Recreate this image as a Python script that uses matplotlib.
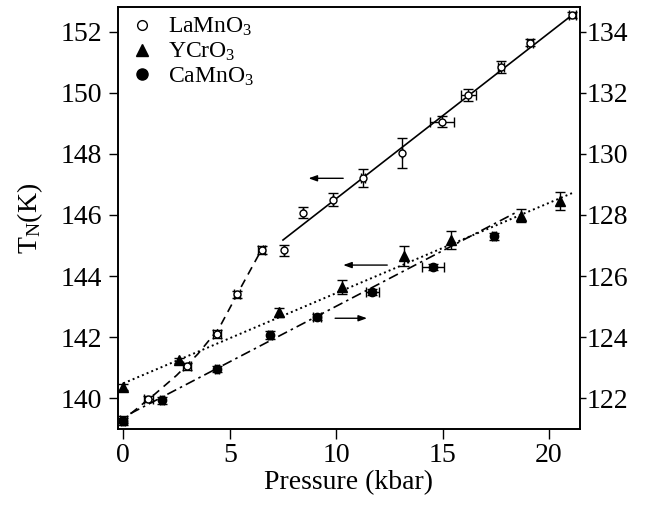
import matplotlib
matplotlib.use("Agg")
import numpy as np
import matplotlib.pyplot as plt
from matplotlib.lines import Line2D

plt.rcParams['font.family'] = ['Liberation Serif', 'DejaVu Serif']
plt.rcParams['mathtext.fontset'] = 'custom'
plt.rcParams['mathtext.rm'] = 'Liberation Serif'
plt.rcParams['mathtext.it'] = 'Liberation Serif:italic'

# LaMnO3 (left axis)
p_la = [0.0, 1.17, 3.0, 4.4, 5.35, 6.5, 7.55, 8.45, 9.86, 11.27, 13.1, 14.98, 16.2, 17.75, 19.1, 21.1]
t_la = [139.3, 139.97, 141.05, 142.1, 143.4, 144.85, 144.85, 146.07, 146.5, 147.2, 148.03, 149.05, 149.93, 150.85, 151.64, 152.55]
terr_la = [0.12, 0.1, 0.12, 0.12, 0.12, 0.12, 0.18, 0.18, 0.22, 0.3, 0.5, 0.18, 0.2, 0.2, 0.12, 0.1]
perr_la = [0.15, 0.2, 0.2, 0.2, 0.15, 0.15, 0.0, 0.0, 0.0, 0.1, 0.0, 0.55, 0.35, 0.15, 0.15, 0.15]

# YCrO3 (left axis)
p_y = [0.0, 2.6, 7.3, 10.28, 13.2, 15.4, 18.7, 20.5]
t_y = [140.36, 141.25, 142.82, 143.64, 144.66, 145.18, 145.98, 146.45]
terr_y = [0.1, 0.08, 0.15, 0.22, 0.32, 0.3, 0.2, 0.3]

# CaMnO3 (right axis)
p_ca = [0.0, 1.83, 4.4, 6.9, 9.1, 11.7, 14.55, 17.4]
t_ca = [121.25, 121.93, 122.95, 124.07, 124.66, 125.48, 126.3, 127.3]
terr_ca = [0.12, 0.1, 0.1, 0.12, 0.1, 0.1, 0.1, 0.12]
perr_ca = [0.1, 0.1, 0.1, 0.1, 0.2, 0.3, 0.52, 0.1]

# fit curves
fit_la_low_p = [0.35, 1.5, 2.5, 3.5, 4.5, 5.5, 6.6]
fit_la_low_t = [139.5, 140.15, 140.75, 141.45, 142.3, 143.6, 145.0]
fit_la_high_p = [7.5, 21.1]
fit_la_high_t = [145.18, 152.55]
fit_y_p = [0.0, 21.1]
fit_y_t = [140.49, 146.72]
fit_ca_p = [0.33, 18.5]
fit_ca_t = [121.5, 128.1]

fig = plt.figure(figsize=(6.45, 5.13), dpi=100)
ax = fig.add_axes([0.183, 0.164, 0.716, 0.822])
ax2 = ax.twinx()

ebkw = dict(ecolor='k', elinewidth=1, capsize=3.5, capthick=1, linestyle='none', zorder=3)

ax.errorbar(p_la, t_la, yerr=terr_la, xerr=perr_la, marker='o', ms=5, mfc='white', mec='k', mew=1, **ebkw)
ax.errorbar(p_y, t_y, yerr=terr_y, marker='^', ms=7, mfc='k', mec='k', **ebkw)
ax2.errorbar(p_ca, t_ca, yerr=terr_ca, xerr=perr_ca, marker='o', ms=6, mfc='k', mec='k', **ebkw)

ax.plot(fit_la_low_p, fit_la_low_t, color='k', lw=1.2, dashes=(5, 3.5))
ax.plot(fit_la_high_p, fit_la_high_t, color='k', lw=1.2)
ax.plot(fit_y_p, fit_y_t, color='k', lw=1.4, dashes=(1.0, 1.6))
ax2.plot(fit_ca_p, fit_ca_t, color='k', lw=1.2, dashes=(6, 2.5, 1.5, 2.5))

# arrows showing which axis each set belongs to
arw = dict(arrowstyle='-|>,head_length=0.5,head_width=0.18', color='k', lw=1, shrinkA=0, shrinkB=0)
ax.annotate('', xy=(8.7, 147.2), xytext=(10.33, 147.2), arrowprops=arw)
ax.annotate('', xy=(10.33, 144.36), xytext=(12.4, 144.36), arrowprops=arw)
ax2.annotate('', xy=(11.45, 124.62), xytext=(9.95, 124.62), arrowprops=arw)

ax.set_xlim(-0.25, 21.45)
ax.set_ylim(139.0, 152.8)
ax2.set_ylim(121.0, 134.8)
ax.set_xticks([0, 5, 10, 15, 20])
ax.set_yticks(np.arange(140, 153, 2))
ax2.set_yticks(np.arange(122, 135, 2))

for a in (ax, ax2):
    a.tick_params(direction='out', length=7, width=1, labelsize=20, top=False)
    for s in a.spines.values():
        s.set_linewidth(1.2)
ax.tick_params(axis='y', right=False, length=6.5, pad=5)
ax2.tick_params(axis='y', left=False, length=4, pad=1)

ax.set_xlabel('Pressure (kbar)', fontsize=20, labelpad=1)
ax.set_ylabel(r'$\mathrm{T_N(K)}$', fontsize=20, labelpad=11)

handles = [
    Line2D([], [], marker='o', ms=7, mfc='white', mec='k', linestyle='none'),
    Line2D([], [], marker='^', ms=8, mfc='k', mec='k', linestyle='none'),
    Line2D([], [], marker='o', ms=8, mfc='k', mec='k', linestyle='none'),
]
labels = [r'$\mathrm{LaMnO_3}$', r'$\mathrm{YCrO_3}$', r'$\mathrm{CaMnO_3}$']
ax.legend(handles, labels, loc='upper left', bbox_to_anchor=(-0.01, 1.018), frameon=False,
          fontsize=17, handlelength=1.0, handletextpad=0.6, labelspacing=0.1,
          borderaxespad=0.3)

fig.savefig('out.png', dpi=100)
